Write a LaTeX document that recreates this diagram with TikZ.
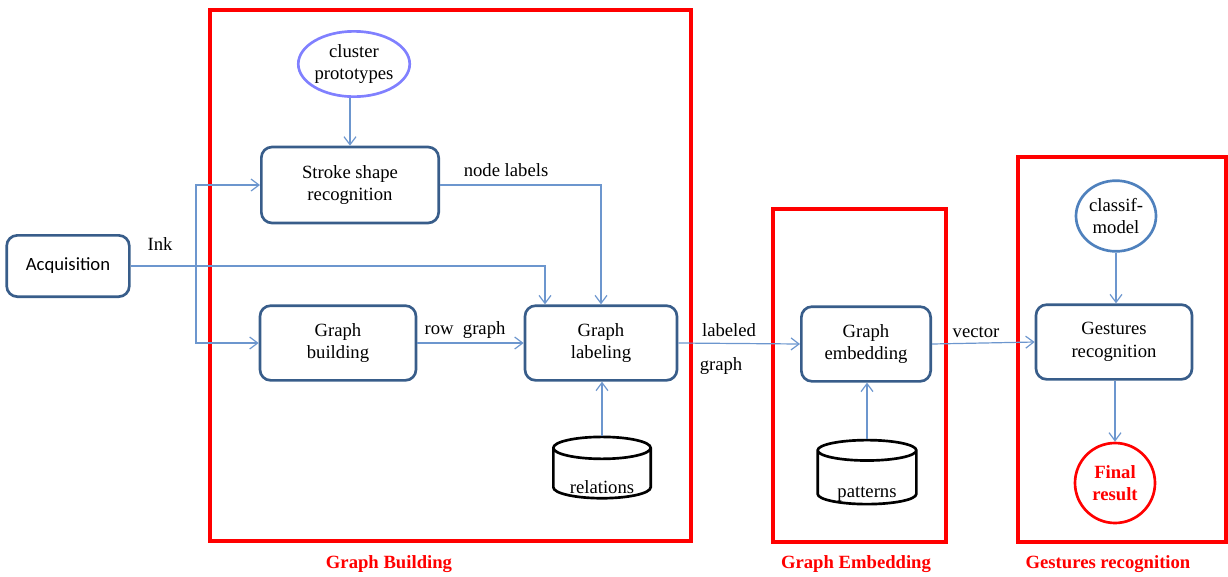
\documentclass[tikz,border=0pt]{standalone}
\usepackage{fontspec}
\setmainfont{Liberation Serif}
\newfontfamily\acqfont{Carlito}
\usetikzlibrary{shapes.geometric,arrows.meta}
\definecolor{boxblue}{RGB}{56,93,138}
\definecolor{linkblue}{RGB}{108,150,206}
\definecolor{protoblue}{RGB}{128,128,255}
\definecolor{modelblue}{RGB}{79,129,189}

\begin{document}
\begin{tikzpicture}[x=0.75pt, y=-0.75pt, >={Straight Barb[length=6pt,width=9pt]},
    every node/.style={font=\fontsize{14}{17}\selectfont},
    proc/.style={rectangle, draw=boxblue, line width=2pt, rounded corners=8pt, align=center, minimum height=56pt},
    conn/.style={->, draw=linkblue, line width=0.9pt},
    frame/.style={rectangle, draw=red, line width=3pt},
    framelbl/.style={text=red, font=\fontsize{14}{16}\selectfont\bfseries},
    store/.style={cylinder, shape border rotate=90, draw, line width=2pt, aspect=0.3, minimum width=73pt, minimum height=46pt}]

    \useasboundingbox (0,0) rectangle (1228,576);

    % Red frames round the three stages
    \node (gbframe) [frame, minimum width=360.75pt, minimum height=398.25pt] at (450.5,275.5) {};
    \node (geframe) [frame, minimum width=129.75pt, minimum height=249.75pt] at (859.5,375.5) {};
    \node (grframe) [frame, minimum width=156pt, minimum height=288.75pt] at (1122,349.5) {};
    \node (gblbl) [framelbl] at (389,564) {Graph Building};
    \node (gelbl) [framelbl] at (856,564) {Graph Embedding};
    \node (grlbl) [framelbl] at (1108,564) {Gestures recognition};

    % Input
    \node (acq) [proc, minimum width=92pt, minimum height=46pt, font=\fontsize{14}{17}\acqfont] at (68,266) {Acquisition};

    % Graph building stage
    \node (clus) [ellipse, draw=protoblue, line width=2pt, minimum width=72pt, minimum height=49pt, inner sep=0pt, align=center] at (354,64) {cluster\\prototypes};
    \node (stroke) [proc, minimum width=133pt, minimum height=57pt] at (350,185) {Stroke shape\\recognition};
    \node (build) [proc, minimum width=117pt] at (338,343) {Graph\\building};
    \node (lab) [proc, minimum width=114pt] at (601,343) {Graph\\labeling};
    \node (rel) [store] at (602,476) {\raisebox{-13pt}[0pt][0pt]{relations}};

    % Graph embedding stage
    \node (emb) [proc, minimum width=97pt] at (866,344) {Graph\\embedding};
    \node (pat) [store, minimum width=74pt, minimum height=48pt] at (867,480) {\raisebox{-13pt}[0pt][0pt]{patterns}};

    % Recognition stage
    \node (model) [ellipse, draw=modelblue, line width=2pt, minimum width=60pt, minimum height=53pt, inner sep=0pt, align=center] at (1116,216) {classif-\\model};
    \node (gest) [proc, minimum width=117pt] at (1114,342) {Gestures\\recognition};
    \node (final) [circle, draw=red, line width=2pt, minimum size=60pt, inner sep=0pt, align=center, text=red, font=\fontsize{14}{17}\selectfont\bfseries] at (1115,483) {Final\\result};

    % Connectors
    \coordinate (split) at (196,267);
    \draw[conn] (acq.east) -| ([xshift=-42pt]lab.north);
    \draw[conn] (split) |- (stroke.west);
    \draw[conn] (split) |- (build.west);
    \draw[conn] (clus.south -| stroke.north) -- (stroke.north);
    \draw[conn] (stroke.east) -| (lab.north);
    \draw[conn] (build.east) -- (lab.west);
    \draw[conn] (rel.north) -- (lab.south -| rel.north);
    \draw[conn] (lab.east) -- (emb.west);
    \draw[conn] (pat.north) -- (emb.south -| pat.north);
    \draw[conn] (emb.east) -- (gest.west);
    \draw[conn] (model.south) -- (gest.north -| model.south);
    \draw[conn] (gest.south -| final.north) -- (final.north);

    % Connector labels
    \node (inklbl) at (160,244) {Ink};
    \node (nodelbl) at (506,170) {node labels};
    \node (rowlbl) at (465,330) {row\enspace graph};
    \node (labdlbl) at (729,330) {labeled};
    \node (graphlbl) at (721,366) {graph};
    \node (veclbl) at (976,332) {vector};

\end{tikzpicture}
\end{document}
